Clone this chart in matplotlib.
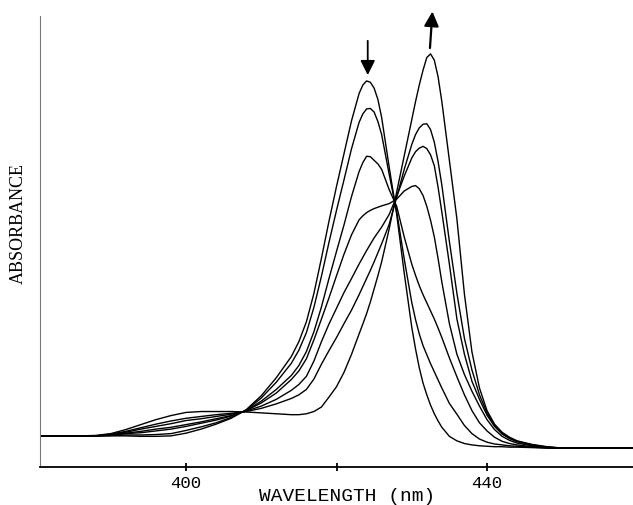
"""Absorbance spectra of the Soret band during the titration:
the 424 nm band goes down and the 432 nm band comes up.
Saves the figure to out.png.
"""

import matplotlib.pyplot as plt

OUTPUT_FILE = 'out.png'

# wavelength grid (nm), shared by all the spectra; finer near the two peaks
WAVELENGTH = [380, 386, 388, 390, 392, 394, 396, 398,
              400, 402, 404, 406, 408, 410, 412, 414,
              415, 416, 417, 418, 419, 420, 421, 422, 423, 423.5, 424, 424.5,
              425, 425.5, 426, 427, 428, 429, 430, 430.5, 431, 431.5, 432, 432.5, 433, 433.5, 434,
              435, 436, 437, 438, 439, 440, 441, 442, 443, 444,
              446, 448, 450, 460]

# absorbance, first scan to last scan
SCAN_1 = [.069, .069, .069, .069, .069, .068, .068, .069,
          .075, .084, .095, .108, .127, .158, .198, .245,
          .278, .322, .385, .463, .545, .622, .695, .768, .828, .847, .856, .853,
          .840, .815, .775, .665, .560, .430, .310, .262, .220, .186, .160, .137, .118, .102, .088,
          .068, .058, .052, .049, .047, .046, .045, .045, .044, .044,
          .043, .042, .042, .042]
SCAN_2 = [.069, .069, .069, .070, .071, .071, .072, .074,
          .081, .089, .098, .110, .126, .153, .188, .230,
          .259, .298, .354, .423, .498, .569, .637, .706, .764, .783, .794, .795,
          .787, .766, .737, .649, .566, .461, .365, .327, .295, .269, .249, .229, .211, .193, .175,
          .141, .117, .092, .074, .062, .055, .051, .049, .047, .046,
          .044, .042, .042, .042]
SCAN_3 = [.069, .069, .069, .070, .074, .076, .080, .084,
          .090, .097, .104, .113, .125, .146, .172, .203,
          .225, .256, .300, .355, .418, .478, .537, .600, .655, .675, .689, .688,
          .680, .672, .660, .615, .578, .510, .450, .425, .402, .382, .364, .346, .328, .308, .287,
          .242, .200, .160, .125, .098, .080, .066, .057, .052, .049,
          .045, .043, .042, .042]
SCAN_4 = [.069, .069, .069, .071, .075, .079, .084, .088,
          .094, .100, .107, .114, .125, .142, .164, .194,
          .213, .240, .282, .328, .375, .424, .472, .515, .548, .557, .564, .569,
          .573, .576, .579, .584, .594, .612, .622, .624, .617, .602, .578, .547, .510, .462, .410,
          .318, .250, .205, .168, .135, .105, .083, .068, .059, .053,
          .047, .043, .042, .042]
SCAN_5 = [.069, .069, .069, .072, .077, .084, .090, .096,
          .103, .107, .112, .117, .124, .135, .150, .170,
          .183, .201, .235, .278, .317, .352, .387, .418, .450, .465, .480, .494,
          .508, .520, .532, .560, .600, .645, .685, .699, .707, .711, .706, .692, .668, .620, .565,
          .450, .328, .250, .190, .150, .115, .090, .073, .063, .056,
          .049, .044, .042, .042]
SCAN_6 = [.069, .069, .069, .073, .079, .087, .095, .102,
          .108, .112, .116, .119, .123, .130, .140, .152,
          .160, .172, .195, .228, .258, .287, .318, .348, .382, .400, .418, .436,
          .455, .475, .495, .538, .598, .660, .715, .737, .752, .760, .761, .748, .720, .677, .625,
          .500, .385, .285, .215, .160, .120, .092, .075, .064, .057,
          .049, .044, .042, .042]
SCAN_7 = [.069, .069, .070, .074, .083, .094, .105, .114,
          .121, .123, .123, .123, .122, .120, .118, .116,
          .116, .118, .123, .133, .155, .178, .210, .250, .295, .317, .340, .366,
          .395, .424, .455, .528, .610, .690, .770, .810, .847, .880, .908, .916, .902, .865, .810,
          .680, .550, .383, .255, .175, .125, .095, .077, .066, .058,
          .050, .045, .042, .042]

SCANS = [SCAN_1, SCAN_2, SCAN_3, SCAN_4, SCAN_5, SCAN_6, SCAN_7]

TICKS = [400, 420, 440]
TICK_LABELS = ['400', '', '440']

MONO = 'Liberation Mono'
SERIF = 'Liberation Serif'


def plot_spectra(out_file: str = OUTPUT_FILE) -> None:
    fig = plt.figure(figsize=(6.33, 5.06), dpi=100)
    ax = fig.add_axes([40 / 633, 38 / 506, 593 / 633, 451 / 506])

    for scan in SCANS:
        ax.plot(WAVELENGTH, scan, color='black', lw=1.0)

    # band goes down at 424 nm, up at 432 nm
    ax.annotate('', xy=(424.15, 0.869), xytext=(424.15, 0.945),
                arrowprops=dict(arrowstyle='-|>', color='black', lw=1.3,
                                mutation_scale=22, shrinkA=0, shrinkB=0),
                annotation_clip=False)
    ax.annotate('', xy=(432.75, 1.010), xytext=(432.42, 0.929),
                arrowprops=dict(arrowstyle='-|>', color='black', lw=1.6,
                                mutation_scale=22, shrinkA=0, shrinkB=0),
                annotation_clip=False)

    ax.set_xlim(380.6, 459.4)
    ax.set_ylim(0, 1)

    ax.spines['top'].set_visible(False)
    ax.spines['right'].set_visible(False)
    ax.spines['left'].set_color('#777777')
    ax.spines['bottom'].set_linewidth(1.3)

    ax.set_xticks(TICKS)
    ax.set_xticklabels(TICK_LABELS, family=MONO, fontsize=12.5)
    ax.set_yticks([])
    ax.tick_params(axis='x', direction='inout', length=6, width=1.3, pad=3)

    ax.set_xlabel('WAVELENGTH (nm)', family=MONO, fontsize=14)
    ax.xaxis.set_label_coords(0.518, -0.045)
    ax.set_ylabel('ABSORBANCE', family=SERIF, fontsize=13)
    ax.yaxis.set_label_coords(-0.022, 0.543)

    fig.savefig(out_file, dpi=100)
    plt.close(fig)


if __name__ == '__main__':
    plot_spectra()
